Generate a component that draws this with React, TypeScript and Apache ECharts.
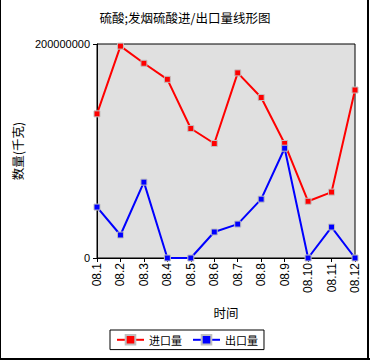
import React, { useEffect, useRef } from "react";
import * as echarts from "echarts";

const categories = ["08.1", "08.2", "08.3", "08.4", "08.5", "08.6", "08.7", "08.8", "08.9", "08.10", "08.11", "08.12"];
const importValues = [134700000, 198000000, 182000000, 167000000, 121000000, 107000000, 173000000, 150000000, 107000000, 53000000, 61600000, 157000000];
const exportValues = [47600000, 21500000, 70900000, 0, 0, 24300000, 31700000, 55000000, 102600000, 0, 28900000, 0];
const seriesNames = ["进口量", "出口量"];
const yMax = 200000000;

const FONT = "'Liberation Sans', 'Noto Sans CJK SC', sans-serif";
const CJK = "'Noto Sans CJK SC', 'Liberation Sans', sans-serif";

export default function App() {
  const ref = useRef<HTMLDivElement>(null);
  useEffect(() => {
    document.body.style.margin = "0";
    const chart = echarts.init(ref.current!, null, { renderer: "svg" });
    chart.setOption({
      animation: false,
      backgroundColor: "#ffffff",
      textStyle: { fontFamily: FONT },
      title: {
        text: "硫酸;发烟硫酸进/出口量线形图",
        left: "center",
        top: 11,
        padding: 0,
        textStyle: { fontSize: 12.5, fontWeight: "normal", color: "#000", fontFamily: CJK },
      },
      grid: {
        left: 97,
        right: 15,
        top: 44,
        bottom: 102,
        show: true,
        backgroundColor: "#e0e0e0",
        borderColor: "#000",
        borderWidth: 1,
      },
      legend: {
        left: 110,
        top: 330,
        orient: "horizontal",
        borderColor: "#000",
        borderWidth: 1,
        borderRadius: 0,
        padding: [4, 6],
        itemWidth: 27,
        itemHeight: 12,
        itemGap: 10,
        textStyle: { fontSize: 11, color: "#000", fontFamily: CJK },
        data: seriesNames,
      },
      xAxis: {
        type: "category",
        data: categories,
        boundaryGap: false,
        name: "时间",
        nameLocation: "middle",
        nameGap: 48,
        nameTextStyle: { fontSize: 12.5, color: "#000", fontFamily: CJK },
        axisLine: { lineStyle: { color: "#000", width: 1 } },
        axisTick: { show: true, inside: false, length: 4, alignWithLabel: true, lineStyle: { color: "#000" } },
        axisLabel: { rotate: 90, fontSize: 12, color: "#000", margin: 5, interval: 0, fontFamily: FONT },
        splitLine: { show: false },
      },
      yAxis: {
        type: "value",
        min: 0,
        max: yMax,
        interval: yMax,
        name: "数量(千克)",
        nameLocation: "middle",
        nameRotate: 90,
        nameGap: 71,
        nameTextStyle: { fontSize: 12.5, color: "#000", fontFamily: CJK },
        axisLine: { show: true, lineStyle: { color: "#000", width: 1 } },
        axisTick: { show: true, inside: false, length: 4, lineStyle: { color: "#000" } },
        axisLabel: { fontSize: 11, color: "#000", margin: 7, fontFamily: FONT, formatter: (v: number) => String(v) },
        splitLine: { show: false },
      },
      series: [
        {
          name: seriesNames[0],
          type: "line",
          data: importValues,
          symbol: "rect",
          symbolSize: 6,
          lineStyle: { color: "#ff0000", width: 2 },
          itemStyle: { color: "#ff0000", borderColor: "#c0c0c0", borderWidth: 1 },
        },
        {
          name: seriesNames[1],
          type: "line",
          data: exportValues,
          symbol: "rect",
          symbolSize: 6,
          lineStyle: { color: "#0000ff", width: 2 },
          itemStyle: { color: "#0000ff", borderColor: "#c0c0c0", borderWidth: 1 },
        },
      ],
      graphic: [
        { type: "line", shape: { x1: 0.5, y1: 0, x2: 0.5, y2: 360 }, style: { stroke: "#000", lineWidth: 1 } },
        { type: "line", shape: { x1: 368, y1: 0, x2: 368, y2: 360 }, style: { stroke: "#000", lineWidth: 2 } },
        { type: "line", shape: { x1: 0, y1: 359, x2: 370, y2: 359 }, style: { stroke: "#000", lineWidth: 2 } },
      ],
    });
    return () => chart.dispose();
  }, []);
  return <div ref={ref} style={{ width: 370, height: 360 }} />;
}
